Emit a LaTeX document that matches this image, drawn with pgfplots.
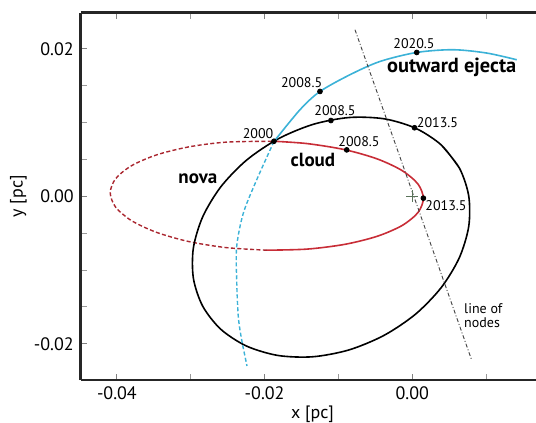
\documentclass[border=0pt]{standalone}
\usepackage{fontspec}
\setmainfont{PT Sans}
\usepackage{pgfplots}
\pgfplotsset{compat=1.18}
\definecolor{ejecta}{RGB}{60,178,215}
\definecolor{novared}{RGB}{200,45,55}
\definecolor{plusc}{RGB}{90,115,90}
\begin{document}
\begin{tikzpicture}
\begin{axis}[
  scale only axis, width=227.65pt, height=183.65pt,
  xmin=-0.0449, xmax=0.01675, ymin=-0.0249, ymax=0.0249,
  axis x line*=box, axis y line*=left,
  axis line style={-, line width=1.3pt, black!85},
  xtick={-0.04,-0.02,0}, minor xtick={-0.03,-0.01,0.01},
  ytick={-0.02,0,0.02}, minor ytick={-0.015,-0.01,-0.005,0.005,0.01,0.015},
  xtick pos=both, ytick pos=left,
  tick align=inside,
  major tick length=3pt, minor tick length=3pt,
  every tick/.style={black!50, line width=0.5pt},
  every minor tick/.style={black!40, line width=0.5pt},
  scaled ticks=false,
  /pgf/number format/fixed, /pgf/number format/fixed zerofill,
  /pgf/number format/precision=2, /pgf/number format/assume math mode=true,
  tick label style={font=\fontsize{9}{10}\selectfont},
  xlabel={x [pc]}, ylabel={y [pc]},
  x label style={at={(axis description cs:0.509,0)}, anchor=north, inner sep=0pt, yshift=-12.5pt, font=\fontsize{9}{10}\selectfont},
  y label style={at={(axis description cs:-0.1366,0.5)}, anchor=center, font=\fontsize{9}{10}\selectfont},
  clip=false,
]
% red orbit, solid part
\addplot[novared, line width=0.8pt, smooth] coordinates {
(-0.01873,0.00747) (-0.01421,0.00715) (-0.00910,0.00632) (-0.00471,0.00506)
(-0.00134,0.00347) (0.00078,0.00165) (0.00150,-0.00028) (0.00078,-0.00218)
(-0.00134,-0.00393) (-0.00471,-0.00540) (-0.00910,-0.00650) (-0.01421,-0.00715)
(-0.01970,-0.00730)};
% red orbit, dashed part
\addplot[novared!85!black, line width=0.7pt, smooth, dash pattern=on 2pt off 1.2pt] coordinates {
(-0.01970,-0.00730) (-0.02519,-0.00695) (-0.03030,-0.00612) (-0.03469,-0.00486)
(-0.03806,-0.00327) (-0.04018,-0.00145) (-0.04090,0.00048) (-0.04018,0.00238)
(-0.03806,0.00413) (-0.03469,0.00560) (-0.03030,0.00670) (-0.02519,0.00735)
(-0.01873,0.00747)};
% black orbit
\addplot[black, line width=0.8pt, smooth] coordinates {
(0.00638,0.00383) (0.00393,0.00696) (0.00046,0.00923) (-0.00379,0.01051)
(-0.00853,0.01069) (-0.01343,0.00976) (-0.01817,0.00779) (-0.02243,0.00492)
(-0.02590,0.00133) (-0.02836,-0.00273) (-0.02964,-0.00697) (-0.02964,-0.01112)
(-0.02838,-0.01489) (-0.02593,-0.01802) (-0.02246,-0.02029) (-0.01821,-0.02157)
(-0.01348,-0.02175) (-0.00857,-0.02082) (-0.00383,-0.01885) (0.00043,-0.01598)
(0.00390,-0.01239) (0.00636,-0.00834) (0.00764,-0.00409) (0.00764,0.00006)
(0.00638,0.00383) (0.00393,0.00696)};
% outward ejecta, solid
\addplot[ejecta, line width=0.8pt, smooth] coordinates {
(-0.01873,0.00744) (-0.01521,0.01174) (-0.01250,0.01422) (-0.00844,0.01649)
(-0.00437,0.01829) (0.00060,0.01951) (0.00551,0.01988) (0.01007,0.01943)
(0.01414,0.01852)};
% outward ejecta, dashed
\addplot[ejecta, line width=0.7pt, smooth, dash pattern=on 2pt off 1.2pt] coordinates {
(-0.01873,0.00744) (-0.02107,0.00224) (-0.02288,-0.00228) (-0.02378,-0.00681)
(-0.02378,-0.01133) (-0.02356,-0.01631) (-0.02310,-0.01947) (-0.02238,-0.02300)};
% line of nodes
\addplot[black!75, line width=0.45pt, dash pattern=on 2pt off 1pt on 0.5pt off 1pt] coordinates {
(-0.00776,0.02259) (0.00804,-0.02220)};
% centre
\addplot[only marks, mark=+, mark size=3pt, plusc, line width=0.6pt] coordinates {(0,0)};
% epoch dots
\addplot[only marks, mark=*, mark size=1.2pt, black] coordinates {
(0.00060,0.01951) (-0.01250,0.01422) (-0.01102,0.01028) (0.00030,0.00930)
(-0.01873,0.00747) (-0.00888,0.00630) (0.00150,-0.00025)};
% labels
\begin{scope}[every node/.style={font=\fontsize{7}{8}\selectfont, inner sep=0pt}]
\node at (axis cs:0.00023,0.02069) {2020.5};
\node at (axis cs:-0.01498,0.01540) {2008.5};
\node at (axis cs:-0.01047,0.01160) {2008.5};
\node at (axis cs:0.00341,0.00997) {2013.5};
\node at (axis cs:-0.02089,0.00848) {2000};
\node at (axis cs:-0.00722,0.00740) {2008.5};
\node at (axis cs:0.00456,-0.00129) {2013.5};
\node[align=left] at (axis cs:0.00961,-0.01621) {line of\\[-1pt]nodes};
\end{scope}
\begin{scope}[every node/.style={font=\bfseries\fontsize{9.5}{11}\selectfont, inner sep=0pt}]
\node[font=\bfseries\fontsize{10.2}{11}\selectfont] at (axis cs:0.00534,0.01744) {outward ejecta};
\node at (axis cs:-0.01345,0.00495) {cloud};
\node at (axis cs:-0.02903,0.00237) {nova};
\end{scope}
\coordinate (SW) at (rel axis cs:0,0);
\coordinate (NE) at (rel axis cs:1,1);
\end{axis}
\pgfresetboundingbox
\path[use as bounding box] ([xshift=-40.35pt,yshift=-21.5pt]SW) rectangle ([yshift=6.35pt]NE);
\end{tikzpicture}
\end{document}
